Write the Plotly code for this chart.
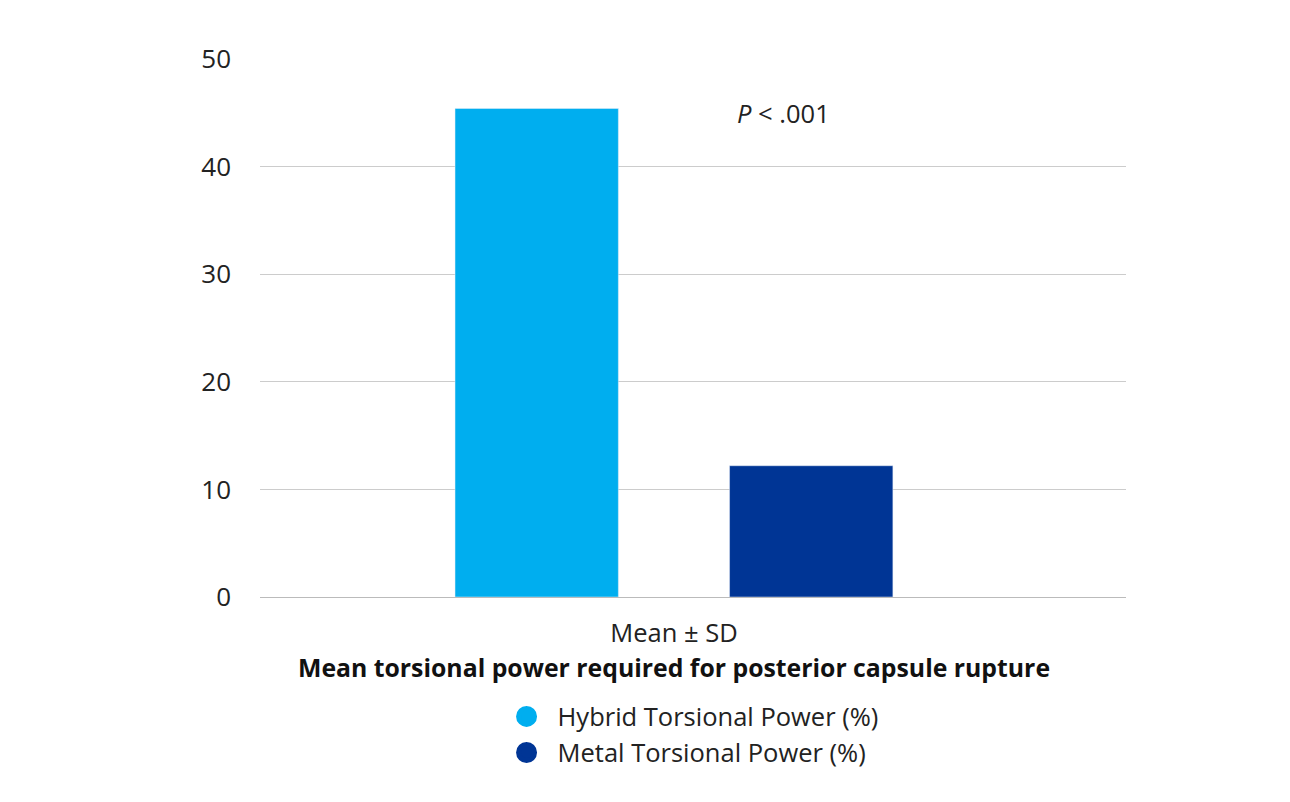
import plotly.graph_objects as go

categories = ["Mean ± SD"]
series_names = ["Hybrid Torsional Power (%)", "Metal Torsional Power (%)"]
series_values = [[45.4], [12.2]]
series_colors = ["#00AEEF", "#003595"]
y_ticks = [0, 10, 20, 30, 40, 50]

font_family = "Open Sans, Noto Sans, sans-serif"

fig = go.Figure()
for name, vals, col in zip(series_names, series_values, series_colors):
    fig.add_trace(go.Bar(x=categories, y=vals, name=name, marker_color=col,
                         showlegend=False))
    # legend entry with a round marker
    fig.add_trace(go.Scatter(x=[None], y=[None], mode="markers", name=name,
                             marker=dict(color=col, size=22, symbol="circle",
                                         line=dict(color=col, width=7))))

fig.add_annotation(x=0.605, y=44.95, xref="paper", yref="y",
                   text="<i>P</i> < .001", showarrow=False,
                   font=dict(size=25.5, color="#222222", family=font_family))

# axis title, centred under the bars
fig.add_annotation(x=0, y=-0.094, xref="x", yref="paper", yanchor="top",
                   text="<b>Mean torsional power required for posterior capsule rupture</b>",
                   showarrow=False,
                   font=dict(size=24.8, color="#111111", family=font_family))

fig.update_layout(
    width=1290, height=802,
    margin=dict(l=252, r=172, t=51, b=213),
    paper_bgcolor="white", plot_bgcolor="white",
    font=dict(family=font_family, size=25.5, color="#222222"),
    barmode="group", bargap=0.366, bargroupgap=0.405,
    legend=dict(orientation="v", x=0.272, xanchor="left", y=-0.179, yanchor="top",
                font=dict(size=25.5, color="#222222"), itemsizing="trace",
                itemwidth=52, tracegroupgap=8),
    xaxis=dict(range=[-0.478, 0.522], tickfont=dict(size=25.5, color="#222222"),
               showgrid=False, showline=False, ticks="", ticklabelstandoff=18),
    yaxis=dict(range=[0, 50], tickvals=y_ticks, showgrid=True, gridcolor="#cccccc",
               gridwidth=1.3, zeroline=True, zerolinecolor="#bbbbbb", zerolinewidth=1.3,
               tickfont=dict(size=26, color="#222222"), ticklabelstandoff=28,
               showline=False),
)

fig.write_html("out.html")
